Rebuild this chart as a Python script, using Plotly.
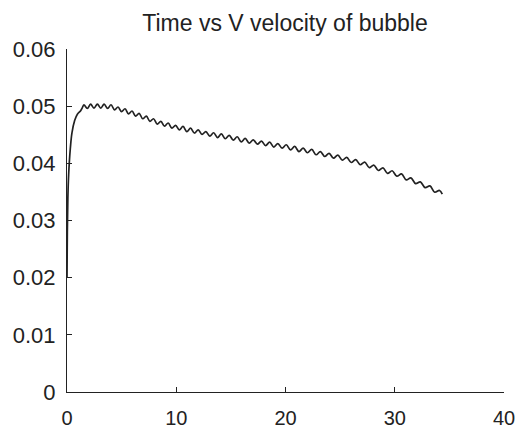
import plotly.graph_objects as go

# Time (x) and V velocity (y)
time = [0.0, 0.03, 0.08, 0.15, 0.30, 0.45, 0.70, 0.95, 1.25, 1.40,
        1.55, 1.86, 2.16, 2.47, 2.78, 3.09, 3.40, 3.72, 4.03, 4.35,
        4.67, 4.99, 5.31, 5.63, 5.95, 6.28, 6.60, 6.93, 7.26, 7.59,
        7.92, 8.26, 8.59, 8.93, 9.26, 9.60, 9.94, 10.28, 10.62, 10.97,
        11.31, 11.66, 12.01, 12.36, 12.71, 13.07, 13.42, 13.78, 14.13, 14.49,
        14.85, 15.22, 15.58, 15.95, 16.31, 16.68, 17.05, 17.43, 17.80, 18.18,
        18.55, 18.93, 19.30, 19.69, 20.07, 20.46, 20.84, 21.23, 21.62, 22.01,
        22.40, 22.80, 23.19, 23.59, 23.99, 24.39, 24.79, 25.20, 25.60, 26.01,
        26.42, 26.84, 27.25, 27.67, 28.08, 28.50, 28.92, 29.34, 29.76, 30.19,
        30.62, 31.05, 31.48, 31.91, 32.34, 32.78, 33.22, 33.66, 34.10, 34.35]
velocity = [0.0200, 0.0280, 0.0340, 0.0380, 0.0425, 0.0453, 0.0475, 0.0486, 0.0492, 0.0497,
            0.05025, 0.0496, 0.05035, 0.04965, 0.05035, 0.04965, 0.05035, 0.0496, 0.05025, 0.04935,
            0.04985, 0.04905, 0.04955, 0.04865, 0.04915, 0.04825, 0.04875, 0.0478, 0.04825, 0.04735,
            0.0478, 0.04685, 0.04735, 0.0465, 0.04705, 0.04615, 0.04665, 0.04585, 0.04645, 0.04555,
            0.04615, 0.0453, 0.04585, 0.04505, 0.04555, 0.04475, 0.04535, 0.0445, 0.04515, 0.0443,
            0.0449, 0.04405, 0.04465, 0.04375, 0.04435, 0.04355, 0.0441, 0.04335, 0.0439, 0.0431,
            0.0437, 0.04285, 0.04345, 0.04265, 0.04325, 0.04235, 0.04295, 0.04205, 0.04265, 0.04185,
            0.04245, 0.0415, 0.04205, 0.0412, 0.04175, 0.0409, 0.04145, 0.04055, 0.04105, 0.04015,
            0.04065, 0.03975, 0.0402, 0.03925, 0.0397, 0.03875, 0.0392, 0.03825, 0.0387, 0.03775,
            0.03815, 0.0371, 0.03745, 0.03645, 0.03675, 0.03575, 0.03605, 0.03495, 0.03525, 0.0346]

x_ticks = [0, 10, 20, 30, 40]
y_ticks = [0, 0.01, 0.02, 0.03, 0.04, 0.05, 0.06]
y_tick_labels = ["0", "0.01", "0.02", "0.03", "0.04", "0.05", "0.06"]

fig = go.Figure()
fig.add_trace(go.Scatter(
    x=time, y=velocity, mode="lines",
    line=dict(color="#222222", width=1.7, shape="spline", smoothing=1.0),
    showlegend=False, hoverinfo="skip",
))

# page body has an 8px default margin, so the figure is 520x420
font = "Liberation Sans, Arial, Helvetica, sans-serif"
fig.update_layout(
    width=520, height=420,
    margin=dict(l=59, r=24, t=41, b=36, autoexpand=False),
    paper_bgcolor="white", plot_bgcolor="white",
    title=dict(text="Time vs V velocity of bubble", x=277 / 520, xanchor="center",
               y=1 - 15 / 420, yanchor="middle", pad=dict(t=0, b=0),
               font=dict(family=font, size=23, color="#222222")),
    font=dict(family=font, size=21, color="#222222"),
)
fig.update_xaxes(
    range=[0, 40], tickvals=x_ticks, ticks="inside", ticklen=5, tickwidth=1,
    tickcolor="#222222", showline=True, linecolor="#222222", linewidth=1.2,
    showgrid=False, zeroline=False, ticklabelstandoff=8, automargin=False,
    tickfont=dict(family=font, size=20, color="#222222"),
)
fig.update_yaxes(
    range=[0, 0.06], tickvals=y_ticks, ticktext=y_tick_labels, ticks="inside",
    ticklen=5, tickwidth=1, tickcolor="#222222", showline=True,
    linecolor="#222222", linewidth=1.2, showgrid=False, zeroline=False,
    ticklabelstandoff=6, automargin=False,
    tickfont=dict(family=font, size=22, color="#222222"),
)

fig.write_html("out.html")
